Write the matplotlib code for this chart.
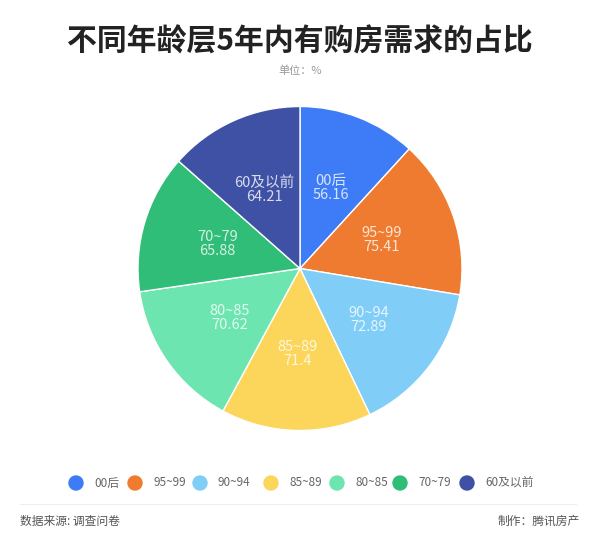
import matplotlib
matplotlib.use("Agg")
import matplotlib.pyplot as plt
import numpy as np

plt.rcParams['font.family'] = ['Noto Sans CJK SC', 'DejaVu Sans']

categories = ["00后", "95~99", "90~94", "85~89", "80~85", "70~79", "60及以前"]
values = [56.16, 75.41, 72.89, 71.4, 70.62, 65.88, 64.21]
colors = ["#3D7BF7", "#EE7B2F", "#80CDF8", "#FBD65B", "#6DE5B1", "#2FBD78", "#3F51A5"]

fig = plt.figure(figsize=(6, 5.4), dpi=100)
fig.patch.set_facecolor("white")

# pie axes: center (300,268.5), radius ~162 px
R = 162
CY = 268.5
ax = fig.add_axes([(300 - R) / 600, 1 - (CY + R) / 540, 2 * R / 600, 2 * R / 540])
wedges, _ = ax.pie(values, colors=colors, startangle=90, counterclock=False, radius=1.0,
                   wedgeprops=dict(edgecolor="white", linewidth=1.0))
ax.set_xlim(-1, 1)
ax.set_ylim(-1, 1)
ax.set_aspect("equal")
ax.axis("off")

def lighten(c, f=0.75):
    rgb = np.array(matplotlib.colors.to_rgb(c))
    return tuple(rgb + (1 - rgb) * f)

total = sum(values)
cum = 0
for cat, v, col in zip(categories, values, colors):
    mid = 90 - (cum + v / 2) / total * 360
    cum += v
    r = 0.53
    x = r * np.cos(np.radians(mid))
    y = r * np.sin(np.radians(mid))
    ax.text(x, y, f"{cat}\n{v:g}", ha="center", va="center", fontsize=10.5,
            color=lighten(col, 0.8), linespacing=1.0)

fig.text(0.5, 1 - 42 / 540, "不同年龄层5年内有购房需求的占比", ha="center", va="center",
         fontsize=21.5, fontweight="bold", color="#222222")
fig.text(0.5, 1 - 71 / 540, "单位：%", ha="center", va="center", fontsize=8, color="#999999")

# legend
xs = [76, 135, 200, 271, 337, 400, 467]
for x, cat, col in zip(xs, categories, colors):
    fig.patches.append(matplotlib.patches.Ellipse((x / 600, 1 - 483 / 540), 14 / 600, 14 / 540,
                                                  transform=fig.transFigure, color=col))
    fig.text((x + 18) / 600, 1 - 483 / 540, cat, ha="left", va="center", fontsize=8.5, color="#666666")

fig.add_artist(matplotlib.lines.Line2D([20 / 600, 576 / 600], [1 - 504 / 540, 1 - 504 / 540],
                                       color="#eeeeee", linewidth=0.8, transform=fig.transFigure))
fig.text(20 / 600, 1 - 521 / 540, "数据来源: 调查问卷", ha="left", va="center", fontsize=8.5, color="#555555")
fig.text(580 / 600, 1 - 521 / 540, "制作：腾讯房产", ha="right", va="center", fontsize=8.5, color="#555555")

fig.savefig("out.png", dpi=100, facecolor="white")
